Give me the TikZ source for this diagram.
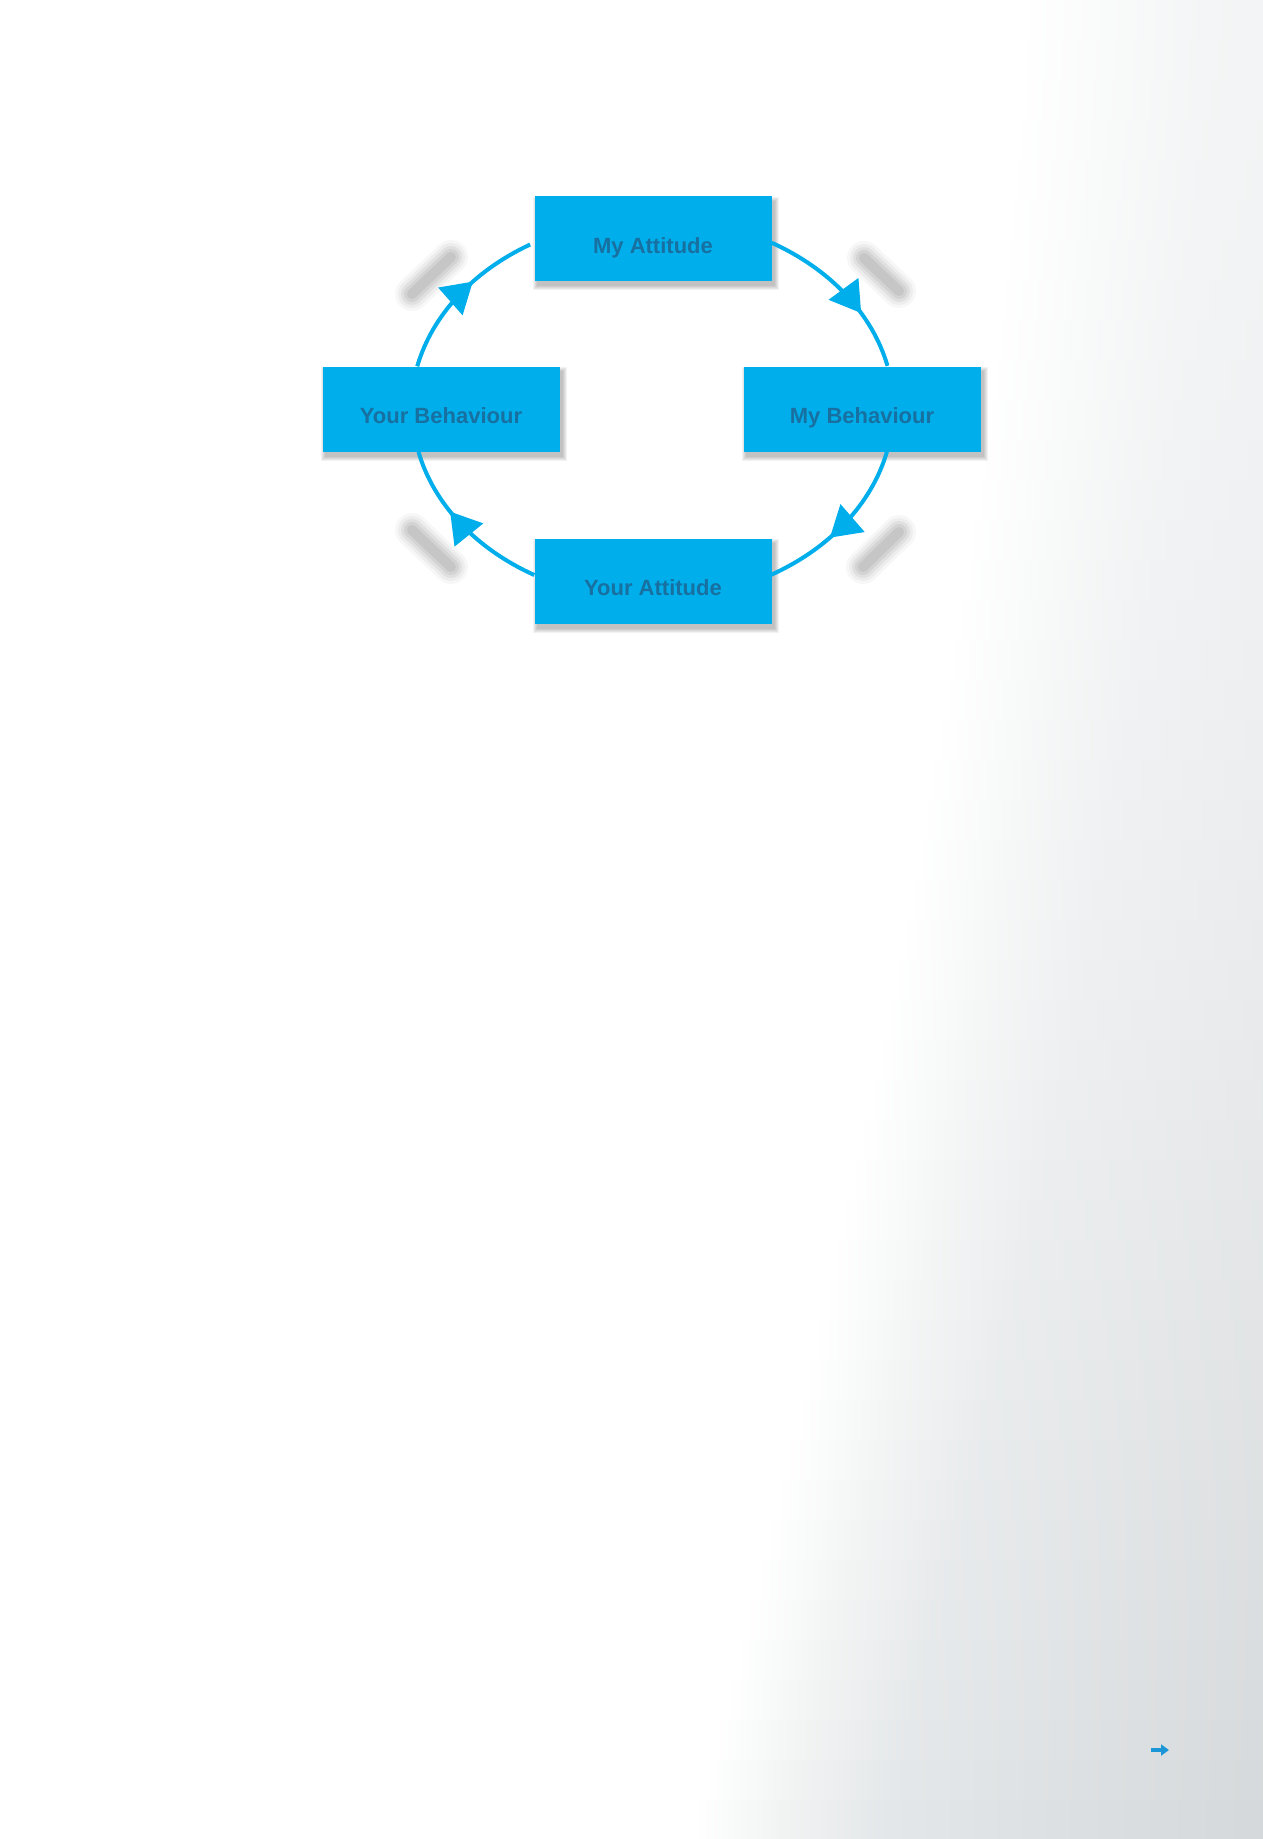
\documentclass[tikz,border=0pt]{standalone}
\usepackage{fontspec}
\setmainfont{Liberation Sans}
\usetikzlibrary{arrows.meta,decorations.markings,calc}
\definecolor{cyanbox}{RGB}{0,174,236}
\definecolor{boxtext}{RGB}{24,112,160}
\definecolor{smallarrow}{RGB}{28,150,214}
\definecolor{bgA}{RGB}{241,243,243}
\definecolor{bgB}{RGB}{228,231,233}
\definecolor{bgC}{RGB}{220,223,225}
\definecolor{bgD}{RGB}{213,216,218}
\pgfdeclarelayer{back}
\pgfdeclarelayer{mid}
\pgfsetlayers{back,mid,main}
\begin{document}
\begin{tikzpicture}[x=1pt,y=-1pt,
  box/.style={rectangle, fill=cyanbox, minimum width=237pt, minimum height=85pt, inner sep=0pt,
    text height=29pt, text depth=0pt, font=\fontsize{22}{26}\selectfont\bfseries, text=boxtext},
  flow/.style={draw=cyanbox, line width=4pt, postaction={decorate},
    decoration={markings, mark=at position #1 with {\arrow{Triangle[width=36pt,length=30pt]}}}},
  blurmark/.style={line cap=round, black},
  boxshadow/.style={black, opacity=0.05},
  pagearrow/.style={draw=smallarrow, line width=3.5pt, -{Triangle[length=8pt,width=11pt]}}
]
\useasboundingbox (0,0) rectangle (1263,1839);
\begin{pgfonlayer}{back}
  \fill[white] (0,0) rectangle (1263,1839);
  \begin{scope}
    \clip (0,0) rectangle (1263,1839);
    \foreach \i in {0,...,45}{
      \pgfmathsetmacro{\ya}{\i*40}
      \pgfmathsetmacro{\yb}{\ya+42}
      \pgfmathsetmacro{\tv}{min((\ya+20)/1839,1)}
      \pgfmathsetmacro{\ov}{1020-330*(\tv^1.5)}
      \pgfmathsetmacro{\al}{42+58*(\tv^1.5)}
      \pgfmathsetmacro{\sv}{\ov-695}
      \pgfdeclarehorizontalshading{bgs\i}{100bp}{color(0bp)=(white); color(52.5bp)=(white);
        color(56bp)=(bgA!\al!white); color(60bp)=(bgB!\al!white); color(67.5bp)=(bgC!\al!white);
        color(75bp)=(bgD!\al!white); color(100bp)=(bgD!\al!white)}
      \shade[shading=bgs\i] (\sv,\ya) rectangle (\sv+1263,\yb);
    }
  \end{scope}
\end{pgfonlayer}

\node[box] (ma) at (653,238.5) {My Attitude};
\node[box] (mb) at (862,409) {My Behaviour};
\node[box] (ya) at (653,581) {Your Attitude};
\node[box] (yb) at (441,409) {Your Behaviour};

\coordinate (d1-a) at (412,294); \coordinate (d1-b) at (451,257);
\coordinate (d2-a) at (864,258); \coordinate (d2-b) at (899,291);
\coordinate (d3-a) at (899,532); \coordinate (d3-b) at (863,567);
\coordinate (d4-a) at (412,530); \coordinate (d4-b) at (451,567);

\begin{pgfonlayer}{mid}
  \foreach \b in {ma,mb,ya,yb}{
    \foreach \k in {0,1,2,3,4}{
      \fill[boxshadow] ($(\b.north west)+(3-\k,5-\k)$) rectangle ($(\b.south east)+(3+\k,5+\k)$);
    }
  }
  \foreach \d in {1,2,3,4}{
    \foreach \w/\o in {34/0.03,28/0.04,22/0.05,16/0.055,10/0.06}{
      \draw[blurmark, line width=\w pt, opacity=\o] (d\d-a) -- (d\d-b);
    }
  }
  \draw[flow=0.66] ($(ma.north east)!0.55!(ma.south east)$) arc[start angle=-60.4, end angle=-13, x radius=241, y radius=191];
  \draw[flow=0.6] ($(mb.south west)!0.605!(mb.south east)$) arc[start angle=13, end angle=60.4, x radius=241, y radius=191];
  \draw[flow=0.61] ($(ya.north west)!0.43!(ya.south west)$) arc[start angle=119.6, end angle=167, x radius=241, y radius=191];
  \draw[flow=0.6] ($(yb.north west)!0.40!(yb.north east)$) arc[start angle=193, end angle=239.6, x radius=241, y radius=191];
\end{pgfonlayer}

\coordinate (pa1) at (1151,1750);
\coordinate (pa2) at (1169,1750);
\draw[pagearrow] (pa1) -- (pa2);
\end{tikzpicture}
\end{document}
